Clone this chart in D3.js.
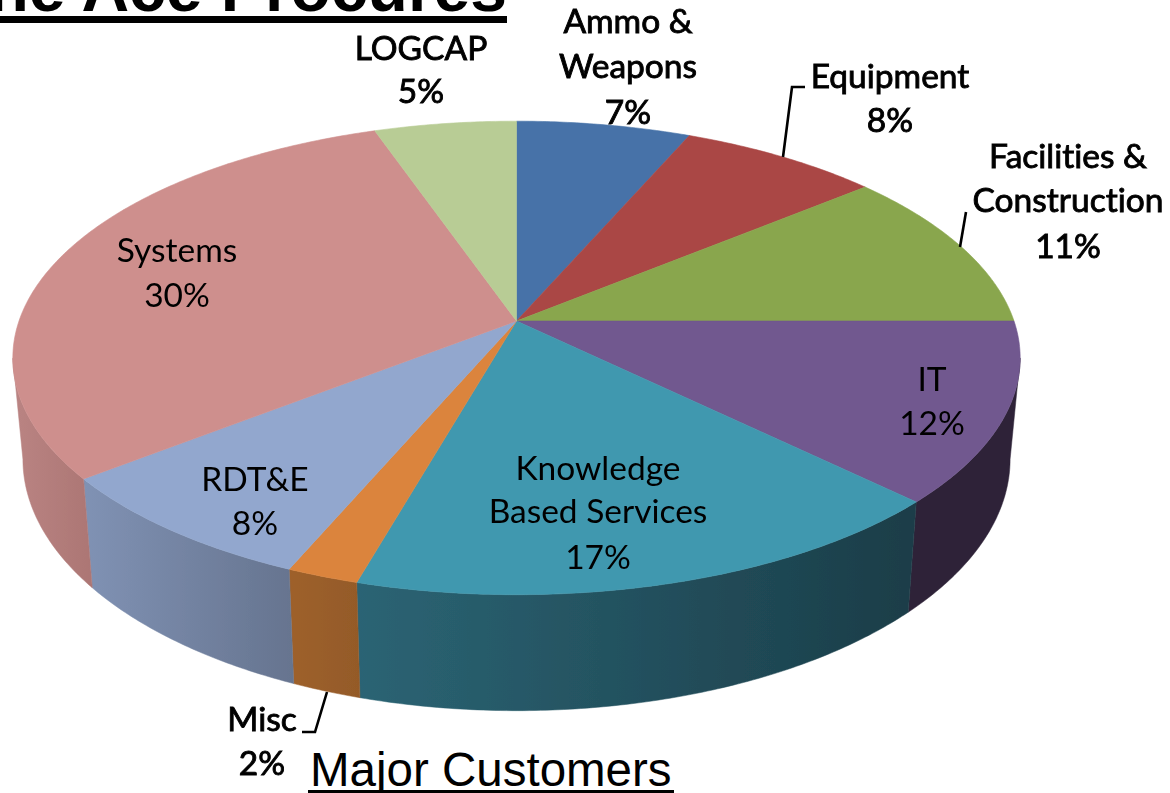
<!DOCTYPE html>
<html>
<head>
<meta charset="utf-8">
<script src="https://cdnjs.cloudflare.com/ajax/libs/d3/7.9.0/d3.min.js"></script>
<style>
html,body{margin:0;padding:0;background:#fff;overflow:hidden}
svg{display:block}
</style>
</head>
<body>
<div id="chart"></div>
<script>
// ---- data ----
const categories = ["Ammo & Weapons","Equipment","Facilities & Construction","IT","Knowledge Based Services","Misc","RDT&E","Systems","LOGCAP"];
const shares = [6.5,7.5,11,12.3,17.1,2,8,30.3,5.3];
const titleText = "The Ace Procures";
const captionText = "Major Customers";

// ---- styles ----
const topColors = ["#4672a8","#aa4644","#89a64e","#71588f","#4198af","#db843d","#92a7ce","#ce8f8d","#b8cc95"];
const wallStops = [
  ["#35567f","#35567f"],["#803533","#803533"],["#677d3b","#677d3b"],
  ["#2f2439","#2d2237"],["#2b6474","#1b3d48"],["#9e612c","#945a28"],
  ["#8092b4","#66748f"],["#ba8483","#ac7674"],["#8b9a71","#8b9a71"]
];

// ---- layout ----
const W = 1170, H = 793;
const centre = {x:516.5, y:321};
const persp = {k:0.156, S:231, R:497.5};
const tangent = Math.asin(persp.k);
const wall = {base:99, slope:0.062, shrink:0.98, from:Math.PI/2+tangent, to:3*Math.PI/2-tangent};
const labelLines = [
  {c:0,x:628,lines:["Ammo &","Weapons"],ys:[33,78,124],outer:true},
  {c:1,x:890,lines:["Equipment"],ys:[88,132],outer:true},
  {c:2,x:1068,lines:["Facilities &","Construction"],ys:[168,212,258],outer:true},
  {c:3,x:932,lines:["IT"],ys:[391,435]},
  {c:4,x:598,lines:["Knowledge","Based Services"],ys:[480,523,569]},
  {c:5,x:262,lines:["Misc"],ys:[731,775],outer:true},
  {c:6,x:255,lines:["RDT&E"],ys:[491,535]},
  {c:7,x:177,lines:["Systems"],ys:[262,307]},
  {c:8,x:421,lines:["LOGCAP"],ys:[60,103],outer:true}
];
const leaders = [
  [[805,87],[792,87],[783,157]],
  [[966,212],[960,247]],
  [[302,732],[315,732],[327,692]]
];

const svg = d3.select("#chart").append("svg").attr("width",W).attr("height",H);
const defs = svg.append("defs");
const blur = defs.append("filter").attr("id","soft").attr("x","-5%").attr("y","-5%").attr("width","110%").attr("height","110%");
blur.append("feGaussianBlur").attr("stdDeviation",0.45);

const color = d3.scaleOrdinal().domain(categories).range(topColors);
const pie = d3.pie().sort(null).startAngle(0).endAngle(2*Math.PI);
const arcs = pie(shares).map((d,i)=>({...d,name:categories[i]}));

// perspective projection of the pie disc; angle is clockwise from the top
function rimTop(a){
  const u=Math.sin(a), v=-Math.cos(a), w=1-persp.k*v;
  return [centre.x+persp.R*u/w, centre.y+persp.S*v/w];
}
function rimBottom(a){
  const [x,y]=rimTop(a);
  return [centre.x+(x-centre.x)*wall.shrink, y+wall.base+wall.slope*(y-centre.y)];
}
function samples(a0,a1){
  const n=Math.max(2,Math.ceil((a1-a0)/0.01));
  return d3.range(n+1).map(i=>a0+(a1-a0)*i/n);
}
const line = d3.line();

const pieG = svg.append("g").attr("filter","url(#soft)");

// side walls
arcs.forEach((d,i)=>{
  const a0=Math.max(d.startAngle,wall.from), a1=Math.min(d.endAngle,wall.to);
  if(a1<=a0) return;
  const as=samples(a0,a1);
  const pts=as.map(rimTop).concat(as.slice().reverse().map(rimBottom));
  const xs=pts.map(p=>p[0]);
  const id="wall"+i;
  const g=defs.append("linearGradient").attr("id",id).attr("gradientUnits","userSpaceOnUse")
    .attr("x1",d3.min(xs)).attr("x2",d3.max(xs)).attr("y1",0).attr("y2",0);
  g.append("stop").attr("offset",0).attr("stop-color",wallStops[i][0]);
  g.append("stop").attr("offset",1).attr("stop-color",wallStops[i][1]);
  pieG.append("path").attr("d",line(pts)+"Z").attr("fill",`url(#${id})`)
    .attr("stroke",`url(#${id})`).attr("stroke-width",0.5);
});

// top face
pieG.selectAll("path.slice").data(arcs).join("path").attr("class","slice")
  .attr("d",d=>line([[centre.x,centre.y]].concat(samples(d.startAngle,d.endAngle).map(rimTop)))+"Z")
  .attr("fill",d=>color(d.name)).attr("stroke",d=>color(d.name)).attr("stroke-width",0.6);

// leader lines
svg.append("g").attr("filter","url(#soft)").selectAll("path").data(leaders).join("path")
  .attr("d",d=>line(d)).attr("fill","none").attr("stroke","#000").attr("stroke-width",2.6);

// labels
const labelG = svg.append("g").attr("filter","url(#soft)")
  .attr("font-family","Lato, 'Open Sans', sans-serif").attr("font-size",33.5).attr("text-anchor","middle").attr("fill","#000")
  .style("font-variant-ligatures","none");
labelLines.forEach(l=>{
  const texts=l.lines.concat([Math.round(shares[l.c])+"%"]);
  texts.forEach((t,j)=>{
    labelG.append("text").attr("x",l.x).attr("y",l.ys[j]).text(t)
      .attr("stroke",l.outer?"#000":"none").attr("stroke-width",l.outer?0.9:0);
  });
});

// title, cropped by the top of the picture
svg.append("text").attr("x",507).attr("y",11).attr("text-anchor","end")
  .attr("font-family","'Liberation Sans', Arial, sans-serif").attr("font-weight",700).attr("font-size",66).text(titleText);
svg.append("line").attr("x1",0).attr("x2",507).attr("y1",19.5).attr("y2",19.5).attr("stroke","#000").attr("stroke-width",7);

// caption
svg.append("text").attr("x",310).attr("y",786)
  .attr("font-family","'Liberation Sans', Arial, sans-serif").attr("font-size",47.5).text(captionText);
svg.append("line").attr("x1",308).attr("x2",674).attr("y1",791.5).attr("y2",791.5).attr("stroke","#000").attr("stroke-width",3);
</script>
</body>
</html>
